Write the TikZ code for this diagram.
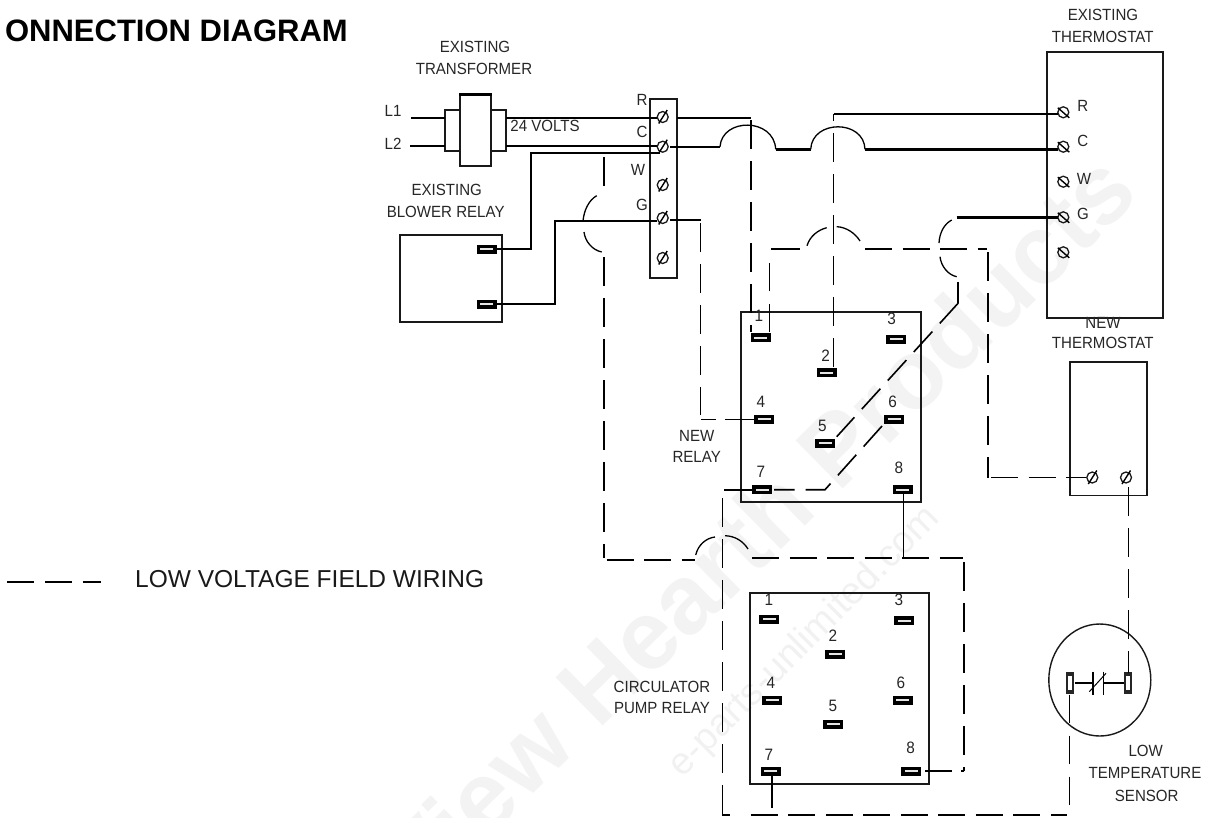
\documentclass[tikz,border=0pt]{standalone}
\usepackage{fontspec}
\usetikzlibrary{shapes.geometric}
\setmainfont{Liberation Sans}
\newfontfamily\labfont[FakeStretch=0.93]{Liberation Sans}
\definecolor{wm}{HTML}{F3F3F3}
\definecolor{wmb}{HTML}{F1F1F1}
\tikzset{
  lab/.style={inner sep=0pt,font=\labfont\fontsize{16.2}{18}\selectfont,text=black!85},
  num/.style={inner sep=0pt,font=\labfont\fontsize{16.5}{18}\selectfont,text=black!85},
  boxn/.style={draw=black!90,line width=1.7pt,inner sep=0pt,fill=none},
  termb/.style={fill=black,draw=none,minimum width=20pt,minimum height=9pt,inner sep=0pt},
  termv/.style={fill=black!85,draw=none,minimum width=8pt,minimum height=22pt,inner sep=0pt},
  screwn/.style={circle,draw=black!90,line width=1.3pt,minimum size=11pt,inner sep=0pt},
  wire/.style={line width=1.9pt},
  wirethick/.style={line width=3pt},
  wirethin/.style={line width=1.3pt},
  arcw/.style={line width=1.3pt},
  lvv/.style={line width=1.5pt,dash pattern=on 28.5pt off 12.5pt},
  lvh/.style={line width=1.5pt,dash pattern=on 27pt off 10.5pt},
  lvd/.style={line width=1.6pt,dash pattern=on 27.6pt off 11pt},
}
\newcommand{\termh}[3]{\node[termb] (#1) at (#2,#3) {};
  \draw[white!90!black,line width=1.7pt] ([xshift=-6.5pt]#1.center) -- ([xshift=6.5pt]#1.center);}
\newcommand{\termvv}[3]{\node[termv] (#1) at (#2,#3) {};
  \fill[white] ([shift={(-2.2pt,-7pt)}]#1.center) rectangle ([shift={(1.8pt,7pt)}]#1.center);}
\newcommand{\screwf}[3]{\node[screwn] (#1) at (#2,#3) {};
  \draw[line width=1.4pt] ([shift={(-4,6.5)}]#1.center) -- ([shift={(4.5,-7)}]#1.center);}
\newcommand{\screwb}[3]{\node[screwn] (#1) at (#2,#3) {};
  \draw[line width=1.4pt] ([shift={(-5.5,-4.5)}]#1.center) -- ([shift={(6,5.5)}]#1.center);}
\begin{document}
\begin{tikzpicture}[x=1pt,y=-1pt]
\useasboundingbox (0,0) rectangle (1206,817);
\begin{scope}
\clip (0,0) rectangle (1206,817);
% watermark
\node[anchor=base east,rotate=44.5,inner sep=0pt,text=wm,font=\fontsize{98}{98}\selectfont\bfseries] (wmark) at (1142,196) {View Hearth Products};
\node[anchor=base east,rotate=45,inner sep=0pt,text=wmb,font=\fontsize{38}{38}\selectfont] (wmurl) at (941,520) {e-parts-unlimited.com};
\end{scope}

% title and legend
\node[anchor=base east,inner sep=0pt,font=\fontsize{31}{32}\selectfont\bfseries] (title) at (348,41) {ONNECTION DIAGRAM};
\node[anchor=base west,inner sep=0pt,font=\fontsize{24.5}{26}\selectfont,text=black!90] (legend) at (135,587.5) {LOW VOLTAGE FIELD WIRING};
\coordinate (lega) at (7.3,582);
\coordinate (legb) at (101,582);
\draw[line width=2pt,dash pattern=on 27pt off 10.7pt] (lega) -- (legb);

% boxes
\node[boxn,minimum width=30.7pt,minimum height=71pt] (tc) at (475.3,130.5) {};
\node[boxn,minimum width=15pt,minimum height=41pt] (tl) at (452.5,130.5) {};
\node[boxn,minimum width=15.3pt,minimum height=41pt] (tr) at (498.3,130.5) {};
\node[boxn,minimum width=27pt,minimum height=179.5pt] (strip) at (663.5,188.5) {};
\node[boxn,minimum width=101.7pt,minimum height=87pt] (blower) at (450.8,278.5) {};
\node[boxn,minimum width=179.7pt,minimum height=190pt] (newrelay) at (830.8,407) {};
\node[boxn,minimum width=179.3pt,minimum height=190.7pt] (circ) at (839.3,688.3) {};
\node[boxn,minimum width=116.6pt,minimum height=266.3pt] (exth) at (1105,185) {};
\node[boxn,minimum width=77.3pt,minimum height=133.3pt] (nth) at (1108.3,428.7) {};
\node[ellipse,draw=black!90,line width=1.4pt,minimum width=102pt,minimum height=112pt,inner sep=0pt] (sensor) at (1099.8,680) {};

% labels
\node[lab] (t1) at (475,46.7) {EXISTING};
\node[lab] (t2) at (474,69) {TRANSFORMER};
\node[lab] (l1) at (393,111) {L1};
\node[lab] (l2) at (393,144) {L2};
\node[lab] (v24) at (545,126) {24 VOLTS};
\node[lab] (b1) at (446.7,190) {EXISTING};
\node[lab] (b2) at (445.7,211.7) {BLOWER RELAY};
\node[lab] (sr) at (642,100) {R};
\node[lab] (sc) at (642,132) {C};
\node[lab] (sw) at (638,170) {W};
\node[lab] (sg) at (642,205) {G};
\node[lab] (e1) at (1103,15) {EXISTING};
\node[lab] (e2) at (1102.7,36.7) {THERMOSTAT};
\node[lab] (er) at (1082.7,106) {R};
\node[lab] (ec) at (1082.7,141) {C};
\node[lab] (ew) at (1084,179) {W};
\node[lab] (eg) at (1083,214) {G};
\node[lab] (n1) at (1103,322.7) {NEW};
\node[lab] (n2) at (1102.7,343) {THERMOSTAT};
\node[lab] (r1) at (696.7,436) {NEW};
\node[lab] (r2) at (696.7,457) {RELAY};
\node[lab] (c1) at (662,686.7) {CIRCULATOR};
\node[lab] (c2) at (662,708) {PUMP RELAY};
\node[lab] (s1) at (1145.7,751) {LOW};
\node[lab] (s2) at (1145,772.7) {TEMPERATURE};
\node[lab] (s3) at (1146.7,795.7) {SENSOR};
% relay numbers
\node[num] (nl1) at (759,315.7) {1};
\node[num] (nl2) at (825.7,356) {2};
\node[num] (nl3) at (891.7,319.3) {3};
\node[num] (nl4) at (761,401.7) {4};
\node[num] (nl5) at (822.3,425.7) {5};
\node[num] (nl6) at (892.7,401.7) {6};
\node[num] (nl7) at (761,471.7) {7};
\node[num] (nl8) at (899,467.7) {8};
\node[num] (cl1) at (769,600) {1};
\node[num] (cl2) at (833,636) {2};
\node[num] (cl3) at (899,600) {3};
\node[num] (cl4) at (771,683) {4};
\node[num] (cl5) at (833,705.7) {5};
\node[num] (cl6) at (901,683) {6};
\node[num] (cl7) at (769,755) {7};
\node[num] (cl8) at (910.7,748) {8};

% terminals
\termh{bt1}{486.5}{249}
\termh{bt2}{486.5}{304.3}
\termh{nt1}{760.7}{337.7}
\termh{nt2}{826.7}{372.7}
\termh{nt3}{896}{339.3}
\termh{nt4}{764}{419.3}
\termh{nt5}{825}{443.3}
\termh{nt6}{894}{419.3}
\termh{nt7}{762.3}{489.7}
\termh{nt8}{902.7}{489.7}
\termh{ct1}{769}{619}
\termh{ct2}{835}{654.3}
\termh{ct3}{904.3}{620.7}
\termh{ct4}{772.3}{700.3}
\termh{ct5}{833.3}{724.3}
\termh{ct6}{902.7}{700.3}
\termh{ct7}{770.7}{771}
\termh{ct8}{911.3}{771}
\termvv{st1}{1070.3}{683.3}
\termvv{st2}{1127.7}{683.3}

% screws
\screwf{ssr}{662.7}{117}
\screwf{ssc}{662.7}{146.7}
\screwf{ssw}{662.7}{185}
\screwf{ssg}{662.7}{218}
\screwf{ssx}{662.7}{258}
\screwb{esr}{1063.3}{112.3}
\screwb{esc}{1063.3}{146.7}
\screwb{esw}{1063.3}{181.7}
\screwb{esg}{1063.3}{217.3}
\screwb{esx}{1063.3}{252.3}
\screwf{nsa}{1092.3}{477.5}
\screwf{nsb}{1126}{477.5}

% named points
\coordinate (la) at (411,118);
\coordinate (lb) at (410,146);
\coordinate (tla) at (445,118);
\coordinate (tlb) at (445,146);
\coordinate (tra) at (506,118);
\coordinate (trb) at (506,146);
\coordinate (sra) at (657,118);
\coordinate (srb) at (657,146);
\coordinate (scd) at (660,152.7);
\coordinate (bt1c) at (531,152.7);
\coordinate (bt1d) at (531,249);
\coordinate (sgd) at (657,220.7);
\coordinate (bt2c) at (555,220.7);
\coordinate (bt2d) at (555,304.3);
% transformer and blower wiring
\draw[wire] (la) -- (tla);
\draw[wire] (lb) -- (tlb);
\draw[wire] (tra) -- (sra);
\draw[wire] (trb) -- (srb);
\draw[wire] (scd) -- (bt1c) -- (bt1d) -- (bt1.east);
\draw[wire] (sgd) -- (bt2c) -- (bt2d) -- (bt2.east);
\draw[wirethick] (tc.north west) -- (tc.north east);

% R wire to new relay 1
\coordinate (ra) at (677,118);
\coordinate (rb) at (751,118);
\coordinate (rc) at (751,120);
\coordinate (rd) at (751,332);
\draw[wire] (ra) -- (rb);
\draw[lvv] (rc) -- (rd);

% C wire with jumps to thermostat C
\coordinate (ca) at (670,146.7);
\coordinate (cb) at (720,146.7);
\coordinate (cc) at (775.7,149.3);
\coordinate (cd) at (810.7,149.3);
\coordinate (ce) at (865,149.3);
\coordinate (cf) at (1058,149.3);
\draw[wire] (ca) -- (cb);
\draw[arcw] (cb) .. controls (722,117.5) and (774,117.5) .. (cc);
\draw[wirethick] (cc) -- (cd);
\draw[arcw] (cd) .. controls (812,119.3) and (864,119.3) .. (ce);
\draw[wirethick] (ce) -- (cf);

% thermostat R to new relay 2
\coordinate (tha) at (833.7,114);
\coordinate (thb) at (1058,114);
\coordinate (thc) at (833.7,368);
\draw[wire] (tha) -- (thb);
\draw[lvv,dash phase=22pt] (tha) -- (thc);

% strip G to new relay 4
\coordinate (ga) at (670,220);
\coordinate (gb) at (701,220);
\coordinate (gc) at (700.3,223);
\coordinate (gd) at (700.3,415);
\coordinate (ge) at (701,419.3);
\draw[wire] (ga) -- (gb);
\draw[lvv] (gc) -- (gd);
\draw[line width=1.4pt,dash pattern=on 14.5pt off 9.5pt on 30pt off 0pt] (ge) -- (nt4.west);

% left long run with jumps
\coordinate (lo1) at (604,157);
\coordinate (lo2) at (604,186);
\coordinate (lo3) at (604,257);
\coordinate (lo4) at (606.5,560);
\coordinate (lo5) at (695,560);
\draw[line width=1.5pt] (lo1) -- (lo2);
\coordinate (ja1) at (596.7,195.7);
\coordinate (ja2) at (583,221);
\coordinate (ja3) at (584,232);
\coordinate (ja4) at (601.7,252);
\draw[arcw] (ja1) .. controls (589,200) and (584,210) .. (ja2);
\draw[arcw] (ja3) .. controls (585,241) and (592,250) .. (ja4);
\draw[lvv] (lo3) -- (604,558);
\draw[line width=2pt,dash pattern=on 27pt off 10.5pt] (lo4) -- (lo5);

% arc over vertical x=722
\coordinate (jb1) at (695.7,555);
\coordinate (jb2) at (715,537);
\coordinate (jb3) at (725,535.7);
\coordinate (jb4) at (748,549);
\draw[arcw] (jb1) .. controls (698,545) and (706,538) .. (jb2);
\draw[arcw] (jb3) .. controls (735,536) and (743,541) .. (jb4);

% loop from new relay 1 over to new thermostat
\coordinate (m1) at (769.7,332);
\coordinate (m2) at (769.7,251);
\coordinate (m3) at (800,249);
\coordinate (m3a) at (771,249);
\draw[lvv] (m1) -- (m2);
\draw[line width=1.9pt] (m3a) -- (m3);
\coordinate (jc1) at (807,245.7);
\coordinate (jc2) at (826.7,227.7);
\coordinate (jc3) at (836.7,226.7);
\coordinate (jc4) at (860,241);
\draw[arcw] (jc1) .. controls (810,236) and (818,230) .. (jc2);
\draw[arcw] (jc3) .. controls (846,227) and (855,233) .. (jc4);
\coordinate (m4) at (865,249);
\coordinate (m5) at (987,249);
\coordinate (m6) at (988,252);
\coordinate (m7) at (988,478);
\coordinate (m8) at (991,477.5);
\draw[lvh] (m4) -- (m5);
\draw[lvv,line width=1.8pt] (m6) -- (m7);
\draw[lvh] (m8) -- (nsa.west);

% thermostat G and its jump
\coordinate (jd1) at (951.7,220);
\coordinate (jd2) at (939,243);
\coordinate (jd3) at (940,256.7);
\coordinate (jd4) at (956.7,276.7);
\draw[arcw] (jd1) .. controls (944,224) and (939.5,233) .. (jd2);
\draw[arcw] (jd3) .. controls (941,266) and (948,275) .. (jd4);
\coordinate (g1) at (956.7,217.3);
\coordinate (g2) at (1058,217.3);
\draw[wirethick] (g1) -- (g2);

% diagonal to relay 5
\coordinate (d0) at (958.3,282);
\coordinate (d1) at (958.3,303);
\coordinate (d2) at (836.7,436.7);
\draw[wire] (d0) -- (d1);
\draw[lvd] (d1) -- (d2);

% relay 6 to 7
\coordinate (e6) at (882,426);
\coordinate (e5) at (825,489.7);
\coordinate (e7) at (774,489.7);
\draw[lvd] (e6) -- (e5) -- (e7);
\coordinate (f7) at (724.3,489.7);
\draw[wire] (nt7.west) -- (f7);

% x=722 vertical and bottom run to sensor
\coordinate (v1) at (722.5,498);
\coordinate (v1b) at (722.5,811);
\coordinate (v2) at (722.5,815);
\coordinate (v3) at (730,815);
\coordinate (v4) at (750.7,815);
\coordinate (v5) at (1067,815);
\coordinate (v6) at (1069.3,806.7);
\draw[lvv,line width=1.4pt] (v1) -- (v1b);
\draw[line width=1.6pt] (v1b) -- (v2) -- (v3);
\draw[lvh,line width=1.8pt] (v4) -- (v5);
\draw[lvv,line width=1.4pt] (v6 |- st1.south) -- (v6);

% relay 8 to circulator 8
\coordinate (h1) at (903.3,557);
\draw[line width=1.6pt] (h1 |- nt8.south) -- (h1);
\coordinate (h2) at (752,558);
\coordinate (h3) at (963,558);
\coordinate (h4) at (964,562);
\coordinate (h5) at (964,771);
\coordinate (h5a) at (961,771);
\coordinate (h6) at (951.7,771);
\coordinate (h7) at (925,771);
\draw[lvh] (h2) -- (h3);
\draw[lvv] (h4) -- (h5);
\draw[line width=1.4pt] (h5) -- (h5a);
\draw[wirethin] (h6) -- (h7);

% circulator 7 down
\coordinate (k1) at (772,808);
\draw[line width=2.2pt] (k1 |- ct7.south) -- (k1);

% new thermostat to sensor
\coordinate (p1) at (1128.3,487);
\coordinate (p2) at (1128.3,673);
\draw[lvv,line width=1.4pt] (p1) -- (p2);

% sensor contact
\coordinate (q1) at (1092.7,683.3);
\coordinate (q2) at (1103.7,683.3);
\coordinate (q3) at (1092.7,671.7);
\coordinate (q4) at (1092.7,695);
\coordinate (q5) at (1103.7,671.7);
\coordinate (q6) at (1103.7,695);
\coordinate (q7) at (1089.3,691.7);
\coordinate (q8) at (1106,673.3);
\draw[wire] (st1.east) -- (q1);
\draw[wire] (q2) -- (st2.west);
\draw[line width=1.9pt] (q3) -- (q4);
\draw[line width=1pt] (q5) -- (q6);
\draw[line width=1pt] (q7) -- (q8);
\end{tikzpicture}
\end{document}
